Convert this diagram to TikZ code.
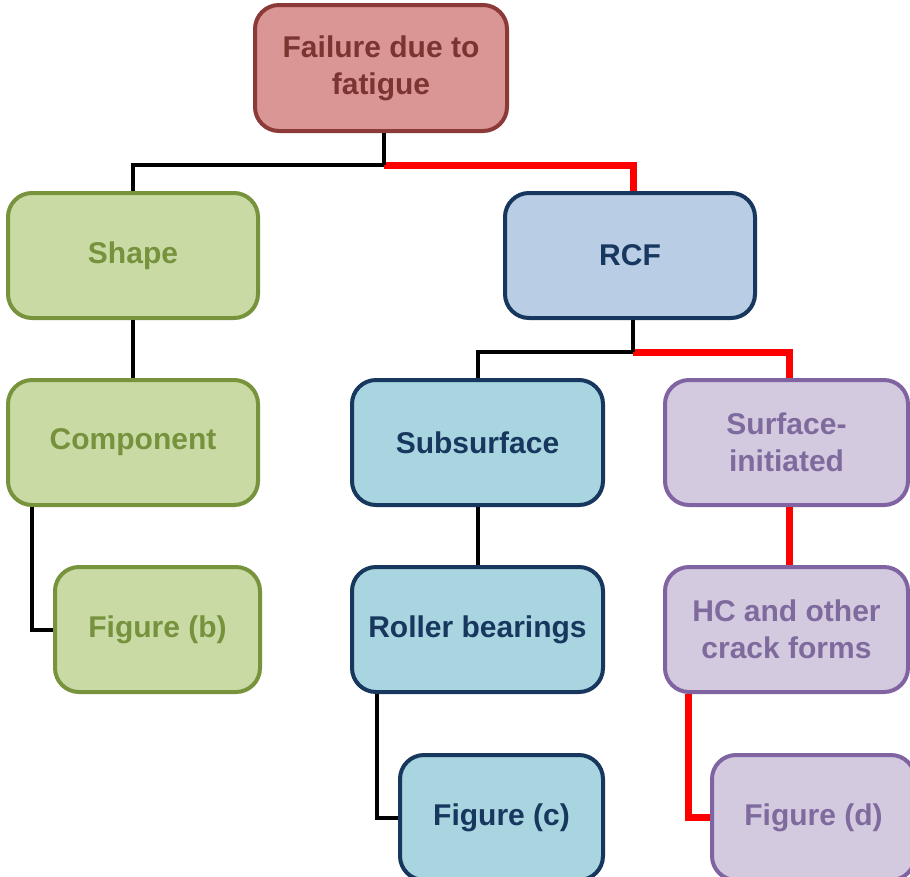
\documentclass[tikz,border=0pt]{standalone}
\usepackage{fontspec}
\setmainfont{Liberation Sans}
\definecolor{failfill}{HTML}{D99694}
\definecolor{faildraw}{HTML}{8B3A38}
\definecolor{failtext}{HTML}{7B3531}
\definecolor{grfill}{HTML}{C9DAA5}
\definecolor{grdraw}{HTML}{77933C}
\definecolor{grtext}{HTML}{76923C}
\definecolor{rcffill}{HTML}{B9CDE5}
\definecolor{navy}{HTML}{17375E}
\definecolor{bufill}{HTML}{A8D5E0}
\definecolor{lvfill}{HTML}{D3CAE0}
\definecolor{lvdraw}{HTML}{8064A2}
\definecolor{lvtext}{HTML}{7F6A9E}
\definecolor{redline}{HTML}{FF0000}
\tikzset{
  box/.style={rounded corners=24pt, line width=4pt, align=center,
    font=\fontsize{30}{37}\selectfont\bfseries, inner sep=0pt,
    minimum height=125pt},
  failbox/.style={box, fill=failfill, draw=faildraw, text=failtext},
  grbox/.style={box, fill=grfill, draw=grdraw, text=grtext},
  rcfbox/.style={box, fill=rcffill, draw=navy, text=navy},
  bubox/.style={box, fill=bufill, draw=navy, text=navy},
  lvbox/.style={box, fill=lvfill, draw=lvdraw, text=lvtext},
  blk/.style={draw=black, line width=4pt},
  rln/.style={draw=redline, line width=7pt},
}
\begin{document}
\begin{tikzpicture}[x=1pt,y=-1pt]
\useasboundingbox (0,0) rectangle (910,876);
\clip (0,0) rectangle (910,876);
% nodes
\node[failbox, minimum width=252pt, minimum height=126pt] (fail) at (381,68) {Failure due to\\fatigue};
\node[grbox, minimum width=250pt] (shape) at (133,255.5) {Shape};
\node[rcfbox, minimum width=250pt] (rcf) at (630,255.5) {RCF};
\node[grbox, minimum width=250pt] (comp) at (133,442.5) {Component};
\node[grbox, minimum width=205pt] (figb) at (157.5,629.5) {Figure (b)};
\node[bubox, minimum width=251pt] (subs) at (477.5,442.5) {Subsurface};
\node[lvbox, minimum width=243pt] (surf) at (786.5,442.5) {Surface-\\initiated};
\node[bubox, minimum width=251pt] (roll) at (477.5,629.5) {Roller bearings};
\node[lvbox, minimum width=243pt] (hc) at (786.5,629.5) {HC and other\\crack forms};
\node[bubox, minimum width=203pt] (figc) at (501.5,817.5) {Figure (c)};
\node[lvbox, minimum width=203pt] (figd) at (813.5,817.5) {Figure (d)};
% connectors
\coordinate (j1) at ([xshift=3pt,yshift=-32pt]fail.south);
\coordinate (j2) at ([xshift=3pt,yshift=-32pt]rcf.south);
\draw[blk] ([xshift=3pt]fail.south) -- (j1) -| (shape.north);
\draw[rln] (j1) -| ([xshift=3pt]rcf.north);
\draw[blk] ([xshift=3pt]fail.south) -- (j1);
\draw[blk] ([xshift=3pt]rcf.south) -- (j2) -| (subs.north);
\draw[rln] (j2) -| ([xshift=3pt]surf.north);
\draw[blk] ([xshift=3pt]rcf.south) -- (j2);
\draw[blk] (shape.south) -- (comp.north);
\draw[blk] ([xshift=-101pt]comp.south) |- (figb.west);
\draw[blk] (subs.south) -- (roll.north);
\draw[blk] ([xshift=-100.5pt]roll.south) |- (figc.west);
\draw[rln] ([xshift=3pt]surf.south) -- ([xshift=3pt]hc.north);
\draw[rln] ([xshift=-98pt]hc.south) |- (figd.west);
\end{tikzpicture}
\end{document}
